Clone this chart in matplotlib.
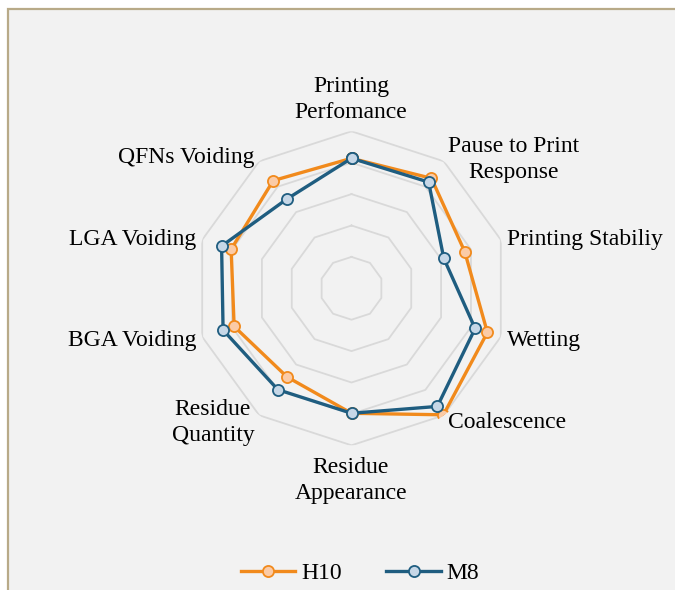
import numpy as np
import matplotlib.pyplot as plt
from matplotlib.patches import Rectangle

plt.rcParams['font.family'] = ['Liberation Serif', 'DejaVu Serif']

# Categories (clockwise from top)
categories = ["Printing\nPerfomance", "Pause to Print\nResponse", "Printing Stabiliy",
              "Wetting", "Coalescence", "Residue\nAppearance", "Residue\nQuantity",
              "BGA Voiding", "LGA Voiding", "QFNs Voiding"]

# Scores (0-5 scale)
h10 = [4.14, 4.33, 3.79, 4.55, 4.98, 3.98, 3.49, 3.93, 4.03, 4.24]
m8 = [4.14, 4.18, 3.09, 4.14, 4.65, 3.98, 3.99, 4.30, 4.35, 3.51]
grid_levels = [1, 2, 3, 4, 5]

W, H = 675, 590
fig = plt.figure(figsize=(W / 100, H / 100), dpi=100, facecolor='white')

# chart area frame (cropped Excel chart)
fig.patches.append(Rectangle((8 / W, -0.1), 1.2, 1 - 9 / H + 0.1, transform=fig.transFigure,
                             facecolor='#F2F2F2', edgecolor='#B8AA88', linewidth=1.6,
                             zorder=-5))

cx, cy, rad = 351.5, 288.3, 157
ax = fig.add_axes([(cx - rad) / W, (H - cy - rad) / H, 2 * rad / W, 2 * rad / H],
                  projection='polar')
ax.set_theta_offset(np.pi / 2)
ax.set_theta_direction(-1)
ax.patch.set_alpha(0)
ax.grid(False)
ax.spines['polar'].set_visible(False)
ax.set_xticks([])
ax.set_yticks([])

n = len(categories)
angles = np.linspace(0, 2 * np.pi, n, endpoint=False)
closed = np.append(angles, angles[0])

for lvl in grid_levels:
    ax.plot(closed, [lvl] * (n + 1), color='#D9D9D9', lw=1.3, zorder=1)

ax.plot(closed, h10 + h10[:1], color='#F18A1C', lw=2.4, marker='o', ms=8,
        mfc='#FBCBA6', mec='#F18A1C', mew=1.3, label='H10', zorder=3)
ax.plot(closed, m8 + m8[:1], color='#1F5D80', lw=2.4, marker='o', ms=8,
        mfc='#C6D7E7', mec='#1F5D80', mew=1.3, label='M8', zorder=4)
ax.set_ylim(0, 5)

# category labels (pixel anchors: x, baseline of last line, alignment)
label_pos = [(351, 118, 'center'), (514, 178, 'center'), (507, 245, 'left'),
             (507, 346, 'left'), (448, 428, 'left'), (351, 499, 'center'),
             (213, 441, 'center'), (196, 346, 'right'), (196, 245, 'right'),
             (254, 163, 'right')]
for lab, (x, y, ha) in zip(categories, label_pos):
    fig.text(x / W, 1 - y / H, lab, ha=ha, va='baseline', fontsize=17,
             color='black', linespacing=1.31, multialignment='center')

fig.legend(loc='center', bbox_to_anchor=(360 / W, 1 - 573 / H), ncol=2, frameon=False,
           fontsize=17, handlelength=2.3, handletextpad=0.25, columnspacing=1.9,
           borderaxespad=0)

fig.savefig('out.png', dpi=100, facecolor='white')
